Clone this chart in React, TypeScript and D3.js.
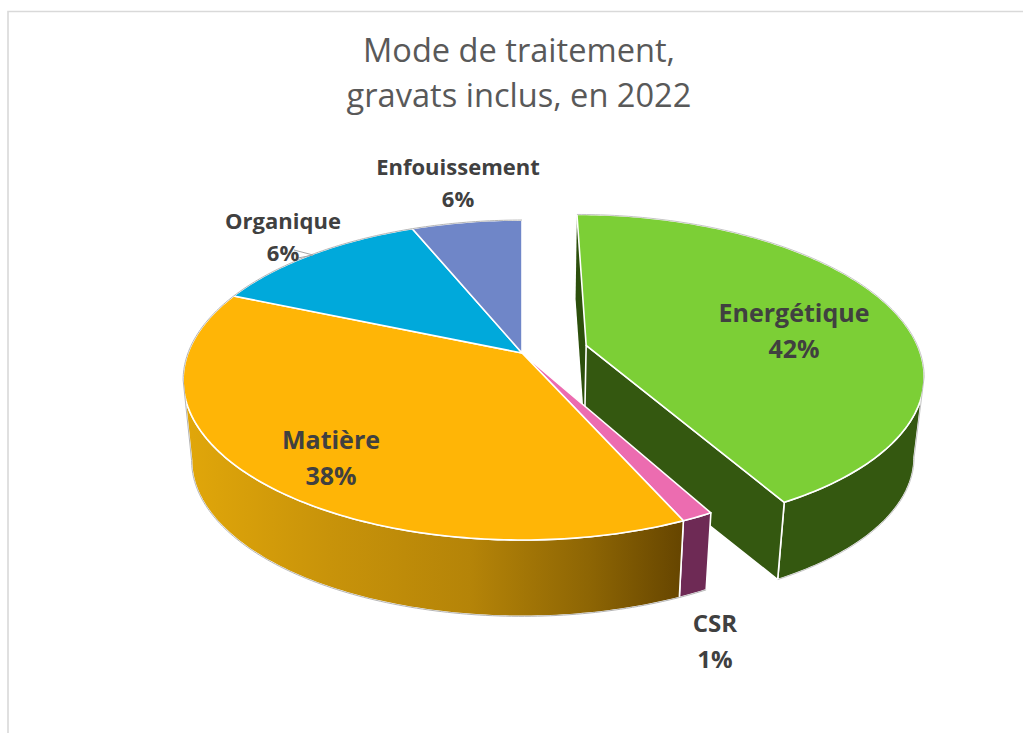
import * as d3 from 'd3';

const categories = ['Energétique', 'CSR', 'Matière', 'Organique', 'Enfouissement'];
// slice sizes as drawn (the printed percentages below do not all agree with them)
const sliceValues = [42, 1.3, 38.1, 12.4, 6.2];
const printedLabels = ['42%', '1%', '38%', '6%', '6%'];
const explode = [0.2, 0, 0, 0, 0];
const topColors = ['#7ccf36', '#ec6cb0', '#ffb506', '#00a9db', '#6f86c8'];
const titleLines = ['Mode de traitement,', 'gravats inclus, en 2022'];

const W = 1023;
const H = 733;

// perspective of the disc
const cx = 522;
const cy = 353;
const a = 334;
const b = 155.4;
const k = 0.169;
const depth = 81;
const bottomScale = 0.975;

// label centres, as placed by hand in the original
const labelAt: [number, number, number][] = [
  [794, 332, 36],
  [715, 642, 36],
  [331, 459, 36],
  [283, 237, 32],
  [458, 183, 32],
];
const labelSize = [25, 24, 25, 22, 22];

type P = [number, number];

function project(u: number, v: number, level: number): P {
  const w = 1 - k * v;
  const s = level ? bottomScale : 1;
  return [cx + (s * a * u) / w, cy + level * depth + (s * b * v) / w];
}

const pie = d3.pie<number>().sort(null);
const arcs = pie(sliceValues);

function offsetOf(i: number): P {
  const mid = (arcs[i].startAngle + arcs[i].endAngle) / 2;
  return [Math.sin(mid) * explode[i], -Math.cos(mid) * explode[i]];
}

function rimPoint(i: number, t: number, level: number): P {
  const [du, dv] = offsetOf(i);
  return project(du + Math.sin(t), dv - Math.cos(t), level);
}

function rimPoints(i: number, level: number, from?: number, to?: number): P[] {
  const t0 = from ?? arcs[i].startAngle;
  const t1 = to ?? arcs[i].endAngle;
  const n = Math.max(2, Math.ceil((t1 - t0) * 60));
  return d3.range(n + 1).map((j) => rimPoint(i, t0 + ((t1 - t0) * j) / n, level));
}

function apex(i: number, level: number): P {
  const [du, dv] = offsetOf(i);
  return project(du, dv, level);
}

// angle on a slice's rim where the outline turns from wall to back edge
function tangentAngle(i: number, sign: number) {
  const ts = d3.range(arcs[i].startAngle, arcs[i].endAngle, 0.002);
  return d3.least(ts, (t) => -sign * rimPoint(i, t, 0)[0]) as number;
}

const leftTurn = tangentAngle(2, -1);
const rightTurn = tangentAngle(0, 1);

const line = d3.line();
const closed = (pts: P[]) => line(pts) + 'Z';

const topFace = (i: number) => closed([apex(i, 0), ...rimPoints(i, 0)]);
const sideWall = (i: number, from?: number, to?: number) =>
  closed([...rimPoints(i, 0, from, to), ...rimPoints(i, 1, from, to).reverse()]);
const cutWall = (i: number, t: number) =>
  closed([apex(i, 0), rimPoint(i, t, 0), rimPoint(i, t, 1), apex(i, 1)]);

const shade = d3
  .scaleLinear<string>()
  .domain([190, 330, 470, 590, 680])
  .range(['#e0a60a', '#c8930a', '#b58408', '#8d6504', '#674600']);

export default function App() {
  return (
    <svg
      width={W}
      height={H}
      viewBox={`0 0 ${W} ${H}`}
      style={{ position: 'absolute', left: 0, top: 0, display: 'block', background: '#fff' }}
    >
      <defs>
        <linearGradient id="matiereSide" gradientUnits="userSpaceOnUse" x1={190} x2={680} y1={0} y2={0}>
          {shade.domain().map((d) => (
            <stop key={d} offset={(d - 190) / 490} stopColor={shade(d)} />
          ))}
        </linearGradient>
      </defs>

      {/* chart area border */}
      <path d={`M8,${H}V11.5H${W}`} fill="none" stroke="#d9d9d9" strokeWidth={1.6} />

      {titleLines.map((t, i) => (
        <text
          key={t}
          x={519}
          y={62 + i * 45}
          textAnchor="middle"
          fontFamily="'Open Sans', sans-serif"
          fontSize={32.6}
          fill="#595959"
        >
          {t}
        </text>
      ))}

      {/* exploded slice */}
      <path d={cutWall(0, arcs[0].startAngle)} fill="#2c4f0c" />
      <g stroke="#fff" strokeWidth={1.6} strokeLinejoin="round">
        <path d={sideWall(0, rightTurn)} fill="#345810" />
        <path d={cutWall(0, arcs[0].endAngle)} fill="#345810" />
        <path d={topFace(0)} fill={topColors[0]} />
      </g>
      <g fill="none" stroke="#b5b5b5" strokeWidth={0.8}>
        <path d={line(rimPoints(0, 0, arcs[0].startAngle, rightTurn))!} />
        <path d={line([rimPoint(0, rightTurn, 0), rimPoint(0, rightTurn, 1)])!} />
        <path d={line(rimPoints(0, 1, rightTurn, arcs[0].endAngle))!} />
      </g>

      {/* main pie */}
      <g stroke="#fff" strokeWidth={1.6} strokeLinejoin="round">
        <path d={sideWall(1)} fill="#6e2a55" />
        <path d={sideWall(2, arcs[2].startAngle, leftTurn)} fill="url(#matiereSide)" />
        {[1, 2, 3, 4].map((i) => (
          <path key={i} d={topFace(i)} fill={topColors[i]} />
        ))}
      </g>
      <g fill="none" stroke="#b5b5b5" strokeWidth={1}>
        <path d={line(rimPoints(2, 1, arcs[2].startAngle, leftTurn))!} />
        <path d={line(rimPoints(1, 1))!} />
        <path d={line([rimPoint(2, leftTurn, 0), rimPoint(2, leftTurn, 1)])!} />
        <path d={line(rimPoints(2, 0, leftTurn, arcs[2].endAngle))!} />
        <path d={line(rimPoints(3, 0))!} />
        <path d={line(rimPoints(4, 0))!} />
      </g>

      {/* leader line of Organique */}
      <path d={line([[294, 250], [313, 255], [298, 258]])!} fill="none" stroke="#a6a6a6" strokeWidth={1} />

      {categories.map((c, i) => (
        <text
          key={c}
          textAnchor="middle"
          fontFamily="'Open Sans', sans-serif"
          fontWeight={700}
          fontSize={labelSize[i]}
          fill="#404040"
        >
          <tspan x={labelAt[i][0]} y={labelAt[i][1] - labelAt[i][2] / 2 + 8}>
            {c}
          </tspan>
          <tspan x={labelAt[i][0]} y={labelAt[i][1] + labelAt[i][2] / 2 + 8}>
            {printedLabels[i]}
          </tspan>
        </text>
      ))}
    </svg>
  );
}
